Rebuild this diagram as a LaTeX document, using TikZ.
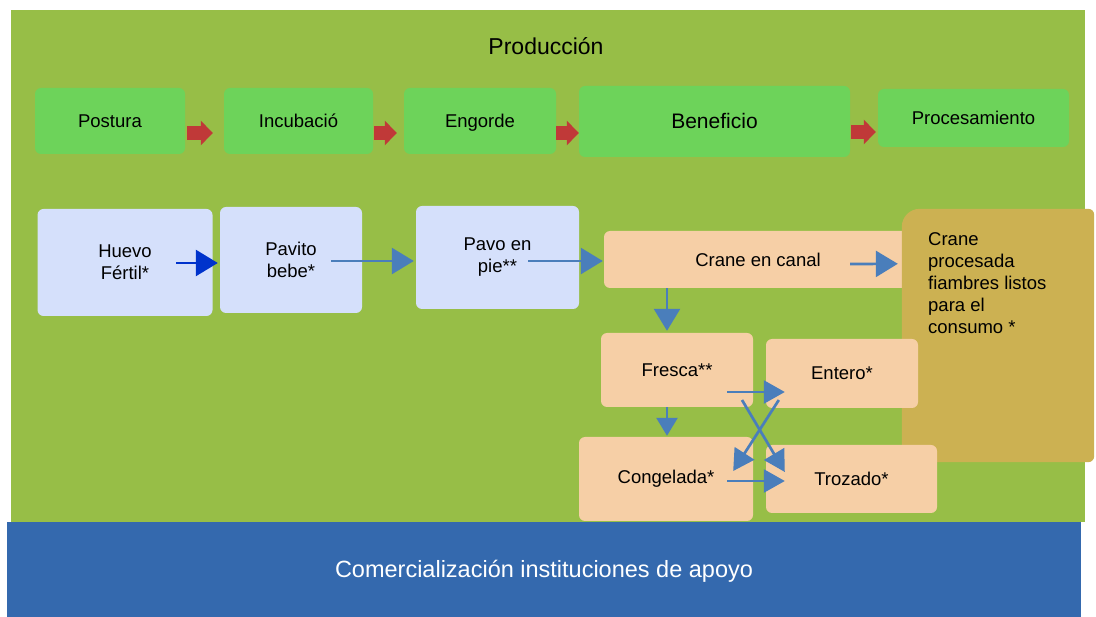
\documentclass[tikz,border=0pt]{standalone}
\usepackage{fontspec}
\setmainfont{Liberation Sans}
\usetikzlibrary{arrows.meta}

\definecolor{fieldgreen}{RGB}{151,190,71}
\definecolor{stepgreen}{RGB}{109,211,90}
\definecolor{lightblue}{RGB}{213,224,251}
\definecolor{peach}{RGB}{246,207,166}
\definecolor{gold}{RGB}{204,177,82}
\definecolor{barblue}{RGB}{52,105,174}
\definecolor{arrowblue}{RGB}{74,126,187}
\definecolor{deepblue}{RGB}{0,51,204}
\definecolor{blockred}{RGB}{192,57,56}

\begin{document}
\begin{tikzpicture}[x=1pt,y=-1pt,
  box/.style={rounded corners=6pt,inner sep=0pt,align=center,font=\fontsize{18.5}{22}\selectfont},
  stage/.style={box,fill=stepgreen,text height=15pt,text depth=1.8pt},
  animal/.style={box,fill=lightblue},
  meat/.style={box,fill=peach},
  redarr/.style={draw=blockred,line width=14pt,-{Triangle[width=24pt,length=12pt]}},
  bluearr/.style={draw=arrowblue,line width=2.7pt,-{Triangle[width=26pt,length=22pt]}},
  crossarr/.style={draw=arrowblue,line width=2.7pt,-{Triangle[width=23pt,length=21pt]}},
  smallarr/.style={draw=arrowblue,line width=2.7pt,-{Triangle[width=21pt,length=18pt]}}]
\useasboundingbox[fill=white] (0,0) rectangle (1096,617);
\fill[fieldgreen] (11,10) rectangle (1085,522);
\node[font=\fontsize{23}{27}\selectfont] (prod) at (546,46) {Producción};

\node[stage,minimum width=150pt,minimum height=66pt] (postura) at (110,121) {Postura};
\node[stage,minimum width=149pt,minimum height=66pt] (incub) at (298.5,121) {Incubació};
\node[stage,minimum width=152pt,minimum height=66pt] (engorde) at (480,121) {Engorde};
\node[stage,minimum width=271pt,minimum height=71pt,font=\fontsize{21}{25}\selectfont,text height=16pt,text depth=1pt] (benef) at (714.5,121.5) {Beneficio};
\node[stage,minimum width=191pt,minimum height=58pt] (proces) at (973.5,118) {Procesamiento};
\draw[redarr] ([shift={(2,12)}]postura.east) -- ([shift={(-11,12)}]incub.west);
\draw[redarr] ([shift={(1,12)}]incub.east) -- ([shift={(-7,12)}]engorde.west);
\draw[redarr] ([shift={(0,12)}]engorde.east) -- ([shift={(0,11.5)}]benef.west);
\draw[redarr] ([shift={(1,10.5)}]benef.east) -- ([shift={(-2,14)}]proces.west);

\node[animal,minimum width=175pt,minimum height=107pt] (huevo) at (125,262.5) {Huevo\\Fértil*};
\node[animal,minimum width=142pt,minimum height=106pt] (pavito) at (291,260) {Pavito\\bebe*};
\node[animal,minimum width=163pt,minimum height=103pt] (pavo) at (497.5,257.5) {Pavo en\\pie**};
\node[meat,minimum width=308pt,minimum height=57pt] (canal) at (758,259.5) {Crane en canal};
\node[inner sep=0pt,minimum width=192pt,minimum height=253pt] (gold) at (998,335.5) {};
\fill[gold] (gold.south west) [rounded corners=18pt] -- (gold.north west) [rounded corners=6pt] -- (gold.north east) -- (gold.south east) -- cycle;
\node[anchor=north west,inner sep=0pt,align=left,font=\fontsize{18.5}{22}\selectfont] (goldtxt) at (928,232)
  {Crane\\procesada\\fiambres listos\\para el\\consumo *};
\node[meat,minimum width=152pt,minimum height=74pt] (fresca) at (677,370) {Fresca**};
\node[meat,minimum width=152pt,minimum height=69pt] (entero) at (842,373.5) {Entero*};
\node[meat,minimum width=174pt,minimum height=84pt] (congel) at (666,479) {Congelada*};
\node[meat,minimum width=171pt,minimum height=68pt] (trozado) at (851.5,479) {Trozado*};

\draw[bluearr,draw=deepblue] ([shift={(51,0.5)}]huevo.center) -- ([shift={(-2,3)}]pavito.west);
\draw[bluearr] ([shift={(40,1)}]pavito.center) -- ([shift={(-2,3.5)}]pavo.west);
\draw[bluearr] ([shift={(30.5,3.5)}]pavo.center) -- ([shift={(-1,1.5)}]canal.west);
\draw[bluearr] ([shift={(92,4.5)}]canal.center) -- ([shift={(-4,55)}]gold.north west);
\draw[bluearr] ([shift={(-91,0)}]canal.south) -- ([shift={(-10,-2)}]fresca.north);
\draw[smallarr] ([shift={(-10,0)}]fresca.south) -- ([shift={(1,-1)}]congel.north);
\draw[crossarr] ([shift={(50,22)}]fresca.center) -- ([shift={(19,18.5)}]entero.west);
\draw[crossarr] ([shift={(65,30)}]fresca.center) -- ([shift={(19,-7)}]trozado.west);
\draw[crossarr] ([shift={(13,26.5)}]entero.west) -- ([shift={(-20,-8)}]congel.east);
\draw[crossarr] ([shift={(61,2)}]congel.center) -- ([shift={(19,2)}]trozado.west);

\node[fill=barblue,inner sep=0pt,minimum width=1074pt,minimum height=95pt,text height=18pt,text depth=3pt,text=white,font=\fontsize{23.5}{28}\selectfont] (bar) at (544,569.5) {Comercialización instituciones de apoyo};
\end{tikzpicture}
\end{document}
